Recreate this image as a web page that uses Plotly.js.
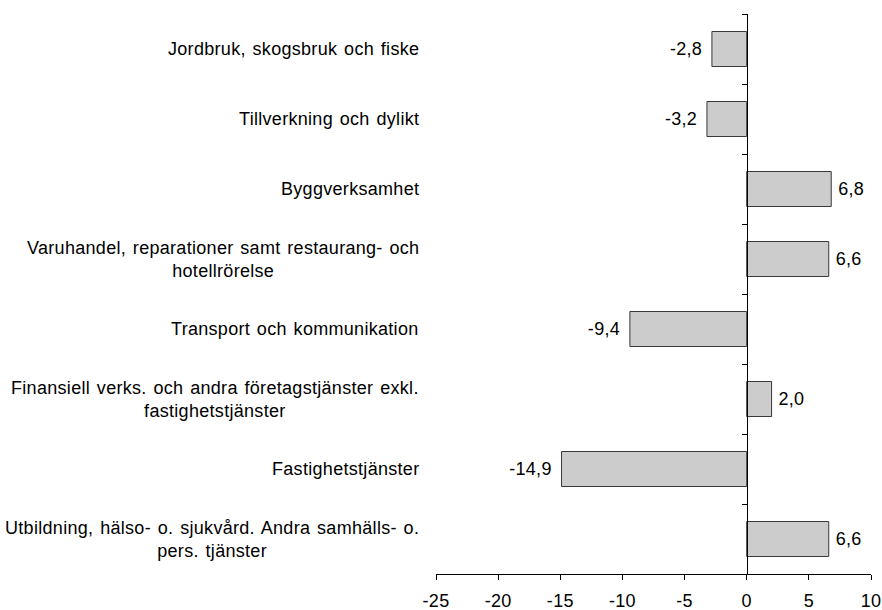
<!DOCTYPE html>
<html>
<head>
<meta charset="utf-8">
<script src="https://cdn.plot.ly/plotly-3.0.1.min.js"></script>
<style>
html,body{margin:0;padding:0;background:#fff;}
#chart{width:882px;height:610px;}
text{letter-spacing:0.3px;word-spacing:1.5px;}
</style>
</head>
<body>
<div id="chart"></div>
<script>
const categories = [
  "Jordbruk, skogsbruk och fiske",
  "Tillverkning och dylikt",
  "Byggverksamhet",
  "Varuhandel, reparationer samt restaurang- och<br>hotellrörelse",
  "Transport och kommunikation",
  "Finansiell verks. och andra företagstjänster exkl.<br>fastighetstjänster",
  "Fastighetstjänster",
  "Utbildning, hälso- o. sjukvård. Andra samhälls- o.<br>pers. tjänster"
];
const values = [-2.8, -3.2, 6.8, 6.6, -9.4, 2.0, -14.9, 6.6];
const xTicks = [-25, -20, -15, -10, -5, 0, 5, 10];

const FONT = "Liberation Sans, Arial, sans-serif";
const FS = 18;
const xMin = -25, xMax = 10;

const trace = {
  type: "bar",
  orientation: "h",
  x: values,
  y: categories,
  width: 0.5,
  marker: { color: "#cccccc", line: { color: "#383838", width: 1 } },
  texttemplate: values.map(v => v < 0 ? "%{x:.1f}\u00a0" : "\u2009%{x:.1f}"),
  textposition: "outside",
  textfont: { family: FONT, size: FS, color: "#000" },
  cliponaxis: false,
  hoverinfo: "none"
};

const annotations = categories.map(c => ({
  xref: "paper", yref: "y",
  x: -0.035, y: c,
  xanchor: "right", yanchor: "middle",
  align: "center",
  text: c,
  showarrow: false,
  font: { family: FONT, size: FS, color: "#000" }
}));

const layout = {
  width: 882, height: 610,
  margin: { l: 436, r: 10.5, t: 14, b: 36 },
  paper_bgcolor: "#fff", plot_bgcolor: "#fff",
  separators: ",.",
  showlegend: false,
  font: { family: FONT, size: FS, color: "#000" },
  xaxis: {
    range: [xMin, xMax],
    tickvals: xTicks,
    ticktext: xTicks.map(String),
    ticks: "outside", ticklen: 5, tickcolor: "#000", tickwidth: 1,
    ticklabelstandoff: 5,
    showline: true, linecolor: "#000", linewidth: 1,
    showgrid: false, zeroline: false,
    tickfont: { family: FONT, size: FS, color: "#000" }
  },
  yaxis: {
    type: "category",
    range: [7.5, -0.5],
    anchor: "free",
    position: (0 - xMin) / (xMax - xMin),
    showticklabels: false,
    ticks: "outside", tickson: "boundaries", ticklen: 5, tickcolor: "#000", tickwidth: 1,
    showline: true, linecolor: "#000", linewidth: 1,
    showgrid: false, zeroline: false
  },
  annotations: annotations
};

Plotly.newPlot("chart", [trace], layout, { displayModeBar: false, staticPlot: true });
</script>
</body>
</html>
